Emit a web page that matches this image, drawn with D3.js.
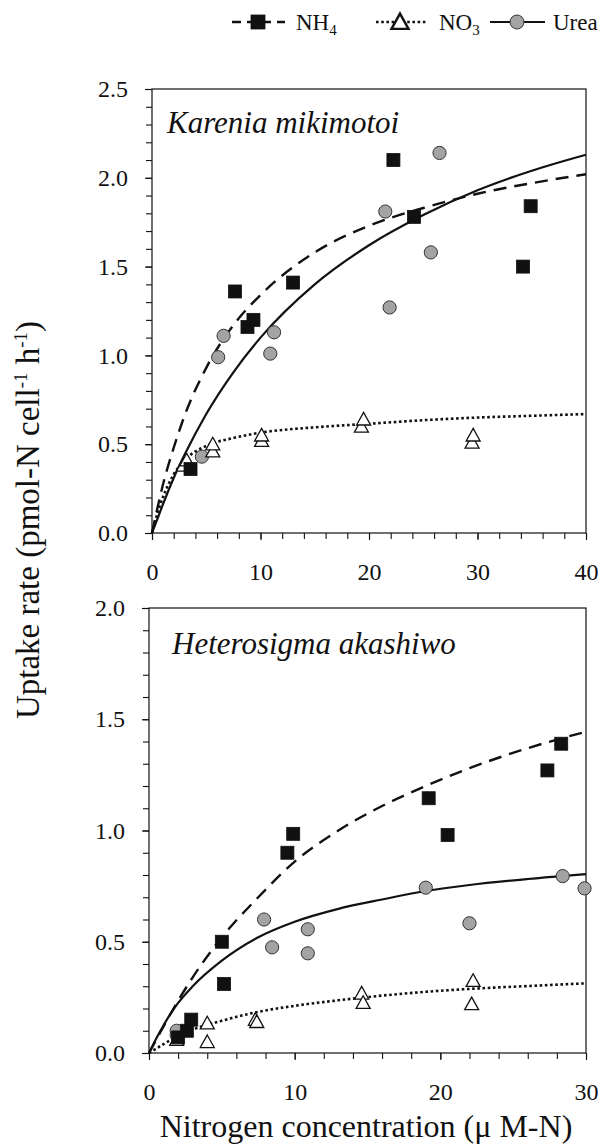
<!DOCTYPE html>
<html>
<head>
<meta charset="utf-8">
<script src="https://cdn.jsdelivr.net/npm/d3@7"></script>
<style>
  body { margin: 0; background: #fff; }
  svg { display: block; }
</style>
</head>
<body>
<svg id="chart" width="612" height="1145"></svg>
<script>
// ---------- DATA ----------
const seriesNames = ["NH4", "NO3", "Urea"];

// Panel A: Karenia mikimotoi
const kmNH4x = [3.55, 7.65, 8.8, 9.35, 13.0, 22.25, 24.15, 34.2, 34.9];
const kmNH4y = [0.36, 1.36, 1.16, 1.20, 1.41, 2.10, 1.78, 1.50, 1.84];
const kmNO3x = [2.9, 3.2, 5.6, 5.6, 10.1, 10.1, 19.3, 19.5, 29.5, 29.6];
const kmNO3y = [0.38, 0.41, 0.46, 0.50, 0.52, 0.55, 0.60, 0.64, 0.51, 0.55];
const kmUreaX = [4.6, 6.1, 6.6, 10.9, 11.25, 21.5, 21.9, 25.7, 26.5];
const kmUreaY = [0.43, 0.99, 1.11, 1.01, 1.13, 1.81, 1.27, 1.58, 2.14];
// fitted curves
const kmCurveX   = [0, 0.5, 1, 2, 3, 5, 7.5, 10, 15, 20, 25, 30, 35, 40];
const kmNH4Fit   = [0, 0.14, 0.27, 0.48, 0.66, 0.93, 1.17, 1.34, 1.58, 1.73, 1.83, 1.91, 1.97, 2.02];
const kmNO3Fit   = [0, 0.11, 0.20, 0.33, 0.41, 0.49, 0.535, 0.565, 0.595, 0.615, 0.635, 0.65, 0.66, 0.67];
const kmUreaFit  = [0, 0.08, 0.16, 0.31, 0.44, 0.67, 0.905, 1.10, 1.40, 1.62, 1.79, 1.93, 2.04, 2.13];

// Panel B: Heterosigma akashiwo
const haNH4x = [2.0, 2.6, 2.9, 5.0, 5.15, 9.5, 9.9, 19.2, 20.5, 27.35, 28.3];
const haNH4y = [0.07, 0.10, 0.15, 0.50, 0.31, 0.90, 0.985, 1.145, 0.98, 1.27, 1.39];
const haNO3x = [1.9, 4.0, 4.0, 7.3, 7.4, 14.6, 14.7, 22.15, 22.25];
const haNO3y = [0.06, 0.134, 0.05, 0.15, 0.14, 0.268, 0.226, 0.22, 0.325];
const haUreaX = [1.9, 1.9, 7.9, 8.45, 10.9, 10.9, 19.0, 22.0, 28.4, 29.9];
const haUreaY = [0.08, 0.10, 0.60, 0.475, 0.556, 0.448, 0.743, 0.583, 0.795, 0.74];
const haCurveX  = [0, 0.5, 1, 2, 3, 5, 7.5, 10, 13, 16, 19, 22, 26, 30];
const haNH4Fit  = [0, 0.06, 0.12, 0.235, 0.34, 0.52, 0.70, 0.86, 1.00, 1.11, 1.20, 1.28, 1.37, 1.444];
const haNO3Fit  = [0, 0.02, 0.04, 0.075, 0.105, 0.145, 0.185, 0.212, 0.237, 0.258, 0.275, 0.288, 0.301, 0.313];
const haUreaFit = [0, 0.065, 0.125, 0.225, 0.30, 0.415, 0.52, 0.59, 0.648, 0.69, 0.728, 0.755, 0.782, 0.804];

// axes
const kmXTicks = [0, 10, 20, 30, 40];
const kmYTicks = [0.0, 0.5, 1.0, 1.5, 2.0, 2.5];
const haXTicks = [0, 10, 20, 30];
const haYTicks = [0.0, 0.5, 1.0, 1.5, 2.0];

const panelTitles = ["Karenia mikimotoi", "Heterosigma akashiwo"];
const xTitle = "Nitrogen concentration (\u03BC M-N)";

// ---------- DRAW ----------
const FONT = '"Liberation Serif"';
const svg = d3.select("#chart");
const zip = (xs, ys) => xs.map((x, i) => [x, ys[i]]);

const panels = [
  { title: panelTitles[0], xDom: [0, 40], yDom: [0, 2.5], xr: [152, 586], yr: [533, 89],
    xTicks: kmXTicks, yTicks: kmYTicks, xMinor: 2, yMinor: 0.1,
    nh4: zip(kmNH4x, kmNH4y), no3: zip(kmNO3x, kmNO3y), urea: zip(kmUreaX, kmUreaY),
    fNH4: zip(kmCurveX, kmNH4Fit), fNO3: zip(kmCurveX, kmNO3Fit), fUrea: zip(kmCurveX, kmUreaFit),
    titleX: 167, titleY: 133 },
  { title: panelTitles[1], xDom: [0, 30], yDom: [0, 2.0], xr: [149, 586], yr: [1053, 608],
    xTicks: haXTicks, yTicks: haYTicks, xMinor: 2, yMinor: 0.1,
    nh4: zip(haNH4x, haNH4y), no3: zip(haNO3x, haNO3y), urea: zip(haUreaX, haUreaY),
    fNH4: zip(haCurveX, haNH4Fit), fNO3: zip(haCurveX, haNO3Fit), fUrea: zip(haCurveX, haUreaFit),
    titleX: 172, titleY: 654 }
];

const tickFont = 24;
const lineStyles = {
  NH4:  { dash: "13,8", width: 2.4 },
  NO3:  { dash: "2.6,2.6", width: 2.6 },
  Urea: { dash: null, width: 2.2 }
};
const circleFill = "#a3a3a3";

function drawSquare(g, cx, cy, s) {
  g.append("rect").attr("x", cx - s / 2).attr("y", cy - s / 2).attr("width", s).attr("height", s)
    .attr("fill", "#111").attr("stroke", "#111").attr("stroke-width", 0.8);
}
function drawTriangle(g, cx, cy, s, sw) {
  const h = s * 0.9;
  g.append("path").attr("d", `M${cx},${cy - h * 0.55}L${cx + s / 2},${cy + h * 0.45}L${cx - s / 2},${cy + h * 0.45}Z`)
    .attr("fill", "#fff").attr("stroke", "#111").attr("stroke-width", sw || 1.3);
}
function drawCircle(g, cx, cy, r) {
  g.append("circle").attr("cx", cx).attr("cy", cy).attr("r", r)
    .attr("fill", circleFill).attr("stroke", "#333").attr("stroke-width", 1);
}
function styleText(sel, size) {
  sel.attr("font-family", null).attr("font-size", null)
     .style("font-family", FONT).style("font-size", size + "px").style("fill", "#111");
}

panels.forEach(p => {
  const x = d3.scaleLinear().domain(p.xDom).range(p.xr);
  const y = d3.scaleLinear().domain(p.yDom).range(p.yr);
  const g = svg.append("g");

  // frame
  g.append("rect").attr("x", p.xr[0]).attr("y", p.yr[1])
    .attr("width", p.xr[1] - p.xr[0]).attr("height", p.yr[0] - p.yr[1])
    .attr("fill", "none").attr("stroke", "#111").attr("stroke-width", 1.2);

  // x axis
  const xMinorVals = d3.range(p.xDom[0], p.xDom[1] + 0.001, p.xMinor);
  const gx = g.append("g").attr("transform", `translate(0,${p.yr[0]})`)
    .call(d3.axisBottom(x).tickValues(xMinorVals).tickSize(6).tickFormat(""));
  gx.select(".domain").remove();
  gx.selectAll("line").attr("stroke", "#111").attr("stroke-width", 1.1);
  const gxl = g.append("g").attr("transform", `translate(0,${p.yr[0]})`)
    .call(d3.axisBottom(x).tickValues(p.xTicks).tickSize(7).tickPadding(23).tickFormat(d3.format("d")));
  gxl.attr("font-family", null).attr("font-size", null);
  gxl.select(".domain").remove();
  gxl.selectAll("line").attr("stroke", "#111").attr("stroke-width", 1.1);
  styleText(gxl.selectAll("text"), tickFont);

  // y axis
  const yMinorVals = d3.range(0, Math.round(p.yDom[1] / p.yMinor) + 1).map(i => +(i * p.yMinor).toFixed(2));
  const gy = g.append("g").attr("transform", `translate(${p.xr[0]},0)`)
    .call(d3.axisLeft(y).tickValues(yMinorVals).tickSize(6).tickFormat(""));
  gy.select(".domain").remove();
  gy.selectAll("line").attr("stroke", "#111").attr("stroke-width", 1.1);
  const gyl = g.append("g").attr("transform", `translate(${p.xr[0]},0)`)
    .call(d3.axisLeft(y).tickValues(p.yTicks).tickSize(7).tickPadding(17).tickFormat(d3.format(".1f")));
  gyl.attr("font-family", null).attr("font-size", null);
  gyl.select(".domain").remove();
  gyl.selectAll("line").attr("stroke", "#111").attr("stroke-width", 1.1);
  styleText(gyl.selectAll("text"), tickFont);

  // curves
  const line = d3.line().x(d => x(d[0])).y(d => y(d[1])).curve(d3.curveMonotoneX);
  [["NH4", p.fNH4], ["NO3", p.fNO3], ["Urea", p.fUrea]].forEach(([k, pts]) => {
    const st = lineStyles[k];
    g.append("path").attr("d", line(pts)).attr("fill", "none").attr("stroke", "#111")
      .attr("stroke-width", st.width).attr("stroke-dasharray", st.dash);
  });

  // points
  p.urea.forEach(d => drawCircle(g, x(d[0]), y(d[1]), 6.6));
  p.no3.forEach(d => drawTriangle(g, x(d[0]), y(d[1]), 14));
  p.nh4.forEach(d => drawSquare(g, x(d[0]), y(d[1]), 13));

  // panel title
  const t = g.append("text").attr("x", p.titleX).attr("y", p.titleY).text(p.title);
  styleText(t, 31);
  t.style("font-style", "italic");
});

// y axis title
const yt = svg.append("text").attr("transform", "translate(39,520) rotate(-90)")
  .attr("text-anchor", "middle");
styleText(yt, 33);
yt.append("tspan").text("Uptake rate (pmol-N cell");
yt.append("tspan").style("font-size", "19px").attr("dy", -12).text("-1");
yt.append("tspan").attr("dy", 12).text(" h");
yt.append("tspan").style("font-size", "19px").attr("dy", -12).text("-1");
yt.append("tspan").attr("dy", 12).text(")");

// x axis title
const xt = svg.append("text").attr("x", 366).attr("y", 1137).attr("text-anchor", "middle").text(xTitle);
styleText(xt, 32);

// legend
const legend = [
  { key: "NH4", x1: 232, x2: 285, mx: 258, tx: 296, sub: "4", base: "NH" },
  { key: "NO3", x1: 376, x2: 428, mx: 400, tx: 439, sub: "3", base: "NO" },
  { key: "Urea", x1: 490, x2: 545, mx: 517, tx: 553, sub: null, base: "Urea" }
];
const ly = 22;
legend.forEach(l => {
  const st = lineStyles[l.key];
  svg.append("line").attr("x1", l.x1).attr("x2", l.x2).attr("y1", ly).attr("y2", ly)
    .attr("stroke", "#111").attr("stroke-width", st.width).attr("stroke-dasharray", l.key === "NH4" ? "9,6" : st.dash);
  if (l.key === "NH4") drawSquare(svg, l.mx, ly, 14);
  if (l.key === "NO3") drawTriangle(svg, l.mx, ly, 17, 2.4);
  if (l.key === "Urea") drawCircle(svg, l.mx, ly, 7);
  const t = svg.append("text").attr("x", l.tx).attr("y", ly + 8);
  styleText(t, 23);
  t.append("tspan").text(l.base);
  if (l.sub) t.append("tspan").style("font-size", "15px").attr("dy", 5).text(l.sub);
});
</script>
</body>
</html>
